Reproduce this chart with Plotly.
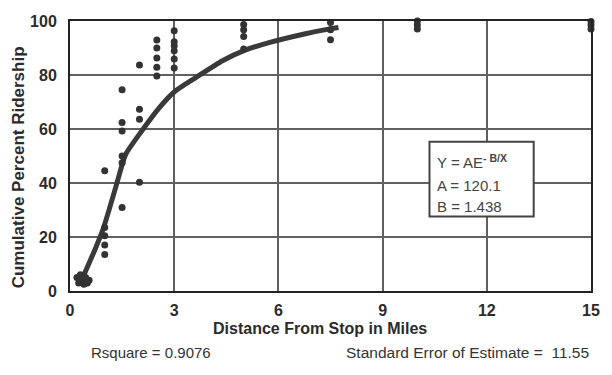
import plotly.graph_objects as go

# scatter observations (distance in miles, cumulative percent ridership)
obs_x = [0.2, 0.25, 0.3, 0.35, 0.4, 0.45, 0.5, 0.55,
         1, 1, 1, 1, 1,
         1.5, 1.5, 1.5, 1.5, 1.5, 1.5,
         2, 2, 2, 2,
         2.5, 2.5, 2.5, 2.5, 2.5,
         3, 3, 3, 3, 3, 3,
         5, 5, 5, 5,
         7.5, 7.5, 7.5,
         10, 10, 10,
         15, 15, 15]
obs_y = [5, 3, 6, 4, 2.5, 5, 3, 4,
         44.5, 23.5, 20.5, 17, 13.5,
         74.5, 62.4, 59.3, 50, 47.5, 30.9,
         83.7, 67.3, 63.6, 40.3,
         93, 90, 86.3, 82.9, 79.6,
         96.4, 92.3, 90.8, 89, 85.9, 82.6,
         98.7, 96.8, 94.3, 89.6,
         99.4, 96.8, 93.1,
         100, 98.5, 97,
         99.8, 98.5, 97]

# fitted curve
fit_x = [0.3, 0.72, 0.95, 1.34, 1.53, 1.62, 2.05, 2.58, 3.0, 3.63, 4.39, 5.06, 5.73, 6.78, 7.44, 7.73]
fit_y = [3, 15.4, 22.8, 39.5, 48.0, 51.0, 59.0, 68.0, 73.7, 79.1, 85.3, 89.3, 92.0, 95.3, 97.0, 97.6]

x_ticks = [0, 3, 6, 9, 12, 15]
y_ticks = [0, 20, 40, 60, 80, 100]

FONT = "Liberation Sans, Arial, Helvetica, sans-serif"
INK = "#2b2b2b"
NB = "\u00a0"

W, H = 612, 375
L, R, T, B = 70, 18, 21, 84


def px_to_paper(px, py):
    return (px - L) / (W - L - R), (H - B - py) / (H - T - B)


fig = go.Figure()
fig.add_trace(go.Scatter(x=fit_x, y=fit_y, mode="lines",
                         line=dict(color="#3a3a3a", width=5, shape="spline", smoothing=0.7),
                         hoverinfo="skip", showlegend=False))
fig.add_trace(go.Scatter(x=obs_x, y=obs_y, mode="markers",
                         marker=dict(color="#333333", size=7),
                         cliponaxis=False, showlegend=False))

# equation box
fig.add_shape(type="rect", xref="x", yref="y", x0=10.35, x1=13.35, y0=27.6, y1=55.3,
              fillcolor="white", line=dict(color="#444444", width=2), layer="above")
box_lines = [("Y = AE<sup><b>-" + NB + "B/X</b></sup>", 48.0), ("A = 120.1", 39.2), ("B = 1.438", 31.3)]
for txt, yy in box_lines:
    fig.add_annotation(x=10.5, y=yy, xref="x", yref="y", text=txt, showarrow=False,
                       xanchor="left", yanchor="middle",
                       font=dict(family=FONT, size=15, color="#444444"))

# axis titles
fx, fy = px_to_paper(321, 328)
fig.add_annotation(x=fx, y=fy, xref="paper", yref="paper",
                   text="<b>Distance From Stop in Miles</b>", showarrow=False,
                   xanchor="center", yanchor="middle",
                   font=dict(family=FONT, size=16, color=INK))
fx, fy = px_to_paper(18, 167)
fig.add_annotation(x=fx, y=fy, xref="paper", yref="paper", textangle=-90,
                   text="<b>Cumulative Percent Ridership</b>", showarrow=False,
                   xanchor="center", yanchor="middle",
                   font=dict(family=FONT, size=17, color=INK))

# footnotes
fx, fy = px_to_paper(151, 352)
fig.add_annotation(x=fx, y=fy, xref="paper", yref="paper",
                   text="Rsquare = 0.9076",
                   showarrow=False, xanchor="center", yanchor="middle",
                   font=dict(family=FONT, size=15, color="#333333"))
fx, fy = px_to_paper(470, 352)
fig.add_annotation(x=fx, y=fy, xref="paper", yref="paper",
                   text="Standard Error of Estimate" + NB + "=" + NB + NB + "11.55",
                   showarrow=False, xanchor="center", yanchor="middle",
                   font=dict(family=FONT, size=15.5, color="#333333"))

fig.update_xaxes(range=[0, 15], tickvals=x_ticks, ticktext=[str(v) for v in x_ticks],
                 showgrid=True, gridcolor="#606060", gridwidth=1.5,
                 showline=True, linecolor="#222222", linewidth=2, mirror=True,
                 zeroline=False, ticks="", ticklen=0, ticklabelstandoff=4,
                 tickfont=dict(family=FONT, size=16, color=INK, weight="bold"))
fig.update_yaxes(range=[0, 100], tickvals=y_ticks, ticktext=[str(v) for v in y_ticks],
                 showgrid=True, gridcolor="#606060", gridwidth=1.5,
                 showline=True, linecolor="#222222", linewidth=2, mirror=True,
                 zeroline=False, ticks="", ticklen=0, ticklabelstandoff=8,
                 tickfont=dict(family=FONT, size=16, color=INK, weight="bold"))

fig.update_layout(width=W, height=H, margin=dict(l=L, r=R, t=T, b=B),
                  plot_bgcolor="white", paper_bgcolor="white", showlegend=False)
fig.write_html("out.html", config={"displayModeBar": False},
               post_script="document.body.style.margin='0';document.body.style.overflow='hidden';")
